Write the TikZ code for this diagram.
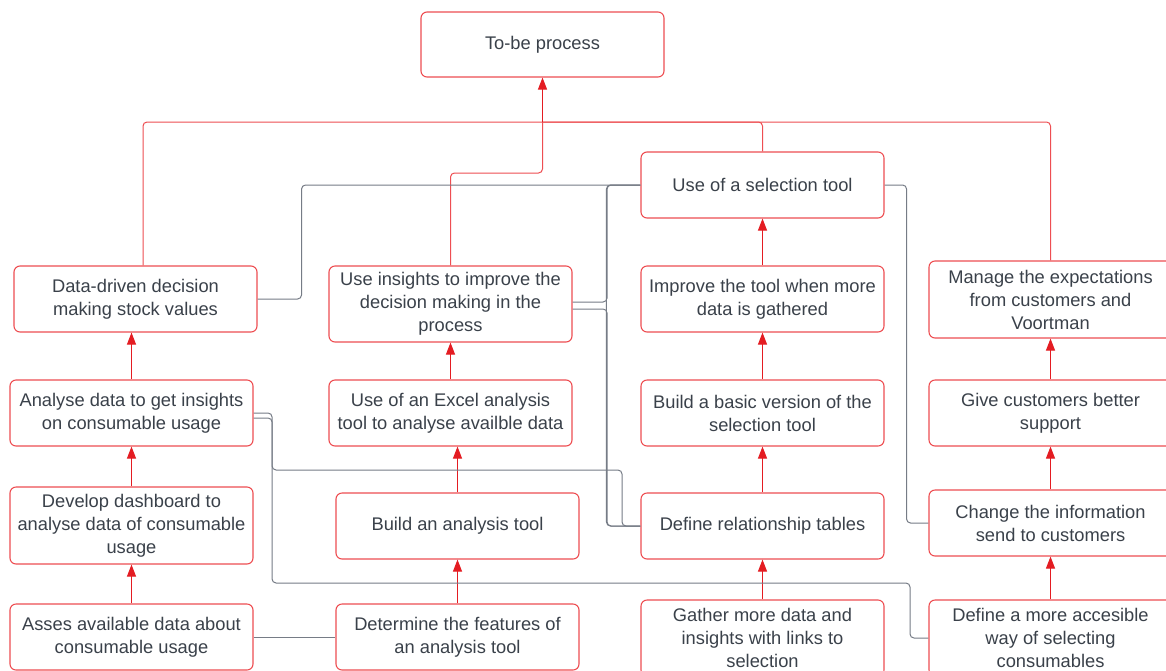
\documentclass[tikz,border=0pt]{standalone}
\usepackage{fontspec}
\setmainfont{Liberation Sans}
\usetikzlibrary{arrows.meta,calc}
\definecolor{boxred}{RGB}{238,78,82}
\definecolor{arrred}{RGB}{228,28,34}
\definecolor{linegray}{RGB}{118,124,134}
\definecolor{txt}{RGB}{58,65,74}
\begin{document}
\begin{tikzpicture}[x=1pt,y=-1pt,
  box/.style={draw=boxred,line width=1.1pt,rounded corners=6pt,minimum width=243pt,inner sep=0pt,align=center,text=txt,font=\fontsize{18.3}{23}\selectfont},
  upar/.style={draw=arrred,line width=1pt,-{Triangle[length=12pt,width=9pt]}},
  redl/.style={draw=boxred,line width=1pt,rounded corners=4pt},
  grayl/.style={draw=linegray,line width=1pt,rounded corners=4pt}]
\useasboundingbox (0,0) rectangle (1166,670);
\fill[white] (0,0) rectangle (1166,670);

% boxes
\node[box,minimum height=65pt] (tobe) at (542.5,44.5) {To-be process};
\node[box,minimum height=66pt] (sel) at (762.5,185) {Use of a selection tool};
\node[box,minimum height=66pt] (data) at (135.5,299) {Data-driven decision\\making stock values};
\node[box,minimum height=76pt] (ins) at (450.5,304) {Use insights to improve the\\decision making in the\\process};
\node[box,minimum height=66pt] (imp) at (762.5,299) {Improve the tool when more\\data is gathered};
\node[box,minimum height=77pt] (man) at (1050.5,299.5) {Manage the expectations\\from customers and\\Voortman};
\node[box,minimum height=66pt] (ana) at (131.5,413) {Analyse data to get insights\\on consumable usage};
\node[box,minimum height=66pt] (exc) at (450.5,413) {Use of an Excel analysis\\tool to analyse availble data};
\node[box,minimum height=66pt] (bas) at (762.5,413) {Build a basic version of the\\selection tool};
\node[box,minimum height=66pt] (giv) at (1050.5,413) {Give customers better\\support};
\node[box,minimum height=77pt] (dev) at (131.5,525.5) {Develop dashboard to\\analyse data of consumable\\usage};
\node[box,minimum height=66pt] (bat) at (457.5,526) {Build an analysis tool};
\node[box,minimum height=66pt] (rel) at (762.5,526) {Define relationship tables};
\node[box,minimum height=66pt] (chg) at (1050.5,523) {Change the information\\send to customers};
\node[box,minimum height=66pt] (ass) at (131.5,637) {Asses available data about\\consumable usage};
\node[box,minimum height=66pt] (det) at (457.5,637) {Determine the features of\\an analysis tool};
\node[box,minimum height=76pt] (gat) at (762.5,638) {Gather more data and\\insights with links to\\selection};
\node[box,minimum height=76pt] (acc) at (1050.5,638) {Define a more accesible\\way of selecting\\consumables};

% red connectors to the top
\coordinate (join) at (542.5,122);
\coordinate (jins) at (542.5,173);
\draw[redl] ([xshift=7.5pt]data.north) |- (join);
\draw[redl] (ins.north) |- (jins) -- (join);
\draw[redl] (sel.north) |- (join);
\draw[redl] (man.north) |- (join);
\draw[upar] (join) -- (tobe.south);

% red arrows
\draw[upar] (ass.north) -- (dev.south);
\draw[upar] (dev.north) -- (ana.south);
\draw[upar] (ana.north) -- (ana.north |- data.south);
\draw[upar] (det.north) -- (bat.south);
\draw[upar] (bat.north) -- (bat.north |- exc.south);
\draw[upar] (exc.north) -- (ins.south);
\draw[upar] (gat.north) -- (rel.south);
\draw[upar] (rel.north) -- (bas.south);
\draw[upar] (bas.north) -- (imp.south);
\draw[upar] (imp.north) -- (sel.south);
\draw[upar] (acc.north) -- (chg.south);
\draw[upar] (chg.north) -- (giv.south);
\draw[upar] (giv.north) -- (man.south);

% gray connectors
\draw[grayl] (data.east) -- ++(44,0) |- (sel.west);
\draw[grayl] (sel.west) -- ++(-34,0) |- (rel.west);
\draw[grayl] ([yshift=2pt]ins.east) -- ++(34.5,0) |- (sel.west);
\draw[grayl] ([yshift=-5pt]ins.east) -- ++(34.5,0) |- (rel.west);
\draw[grayl] (ana.east) -- ++(18.5,0) |- (622,470) |- (rel.west);
\draw[grayl] ([yshift=-5pt]ana.east) -- ++(18.5,0) |- (910,583) |- (acc.west);
\draw[grayl] (ass.east) -- (det.west);
\draw[grayl] (sel.east) -- ++(22,0) |- (chg.west);
\end{tikzpicture}
\end{document}
